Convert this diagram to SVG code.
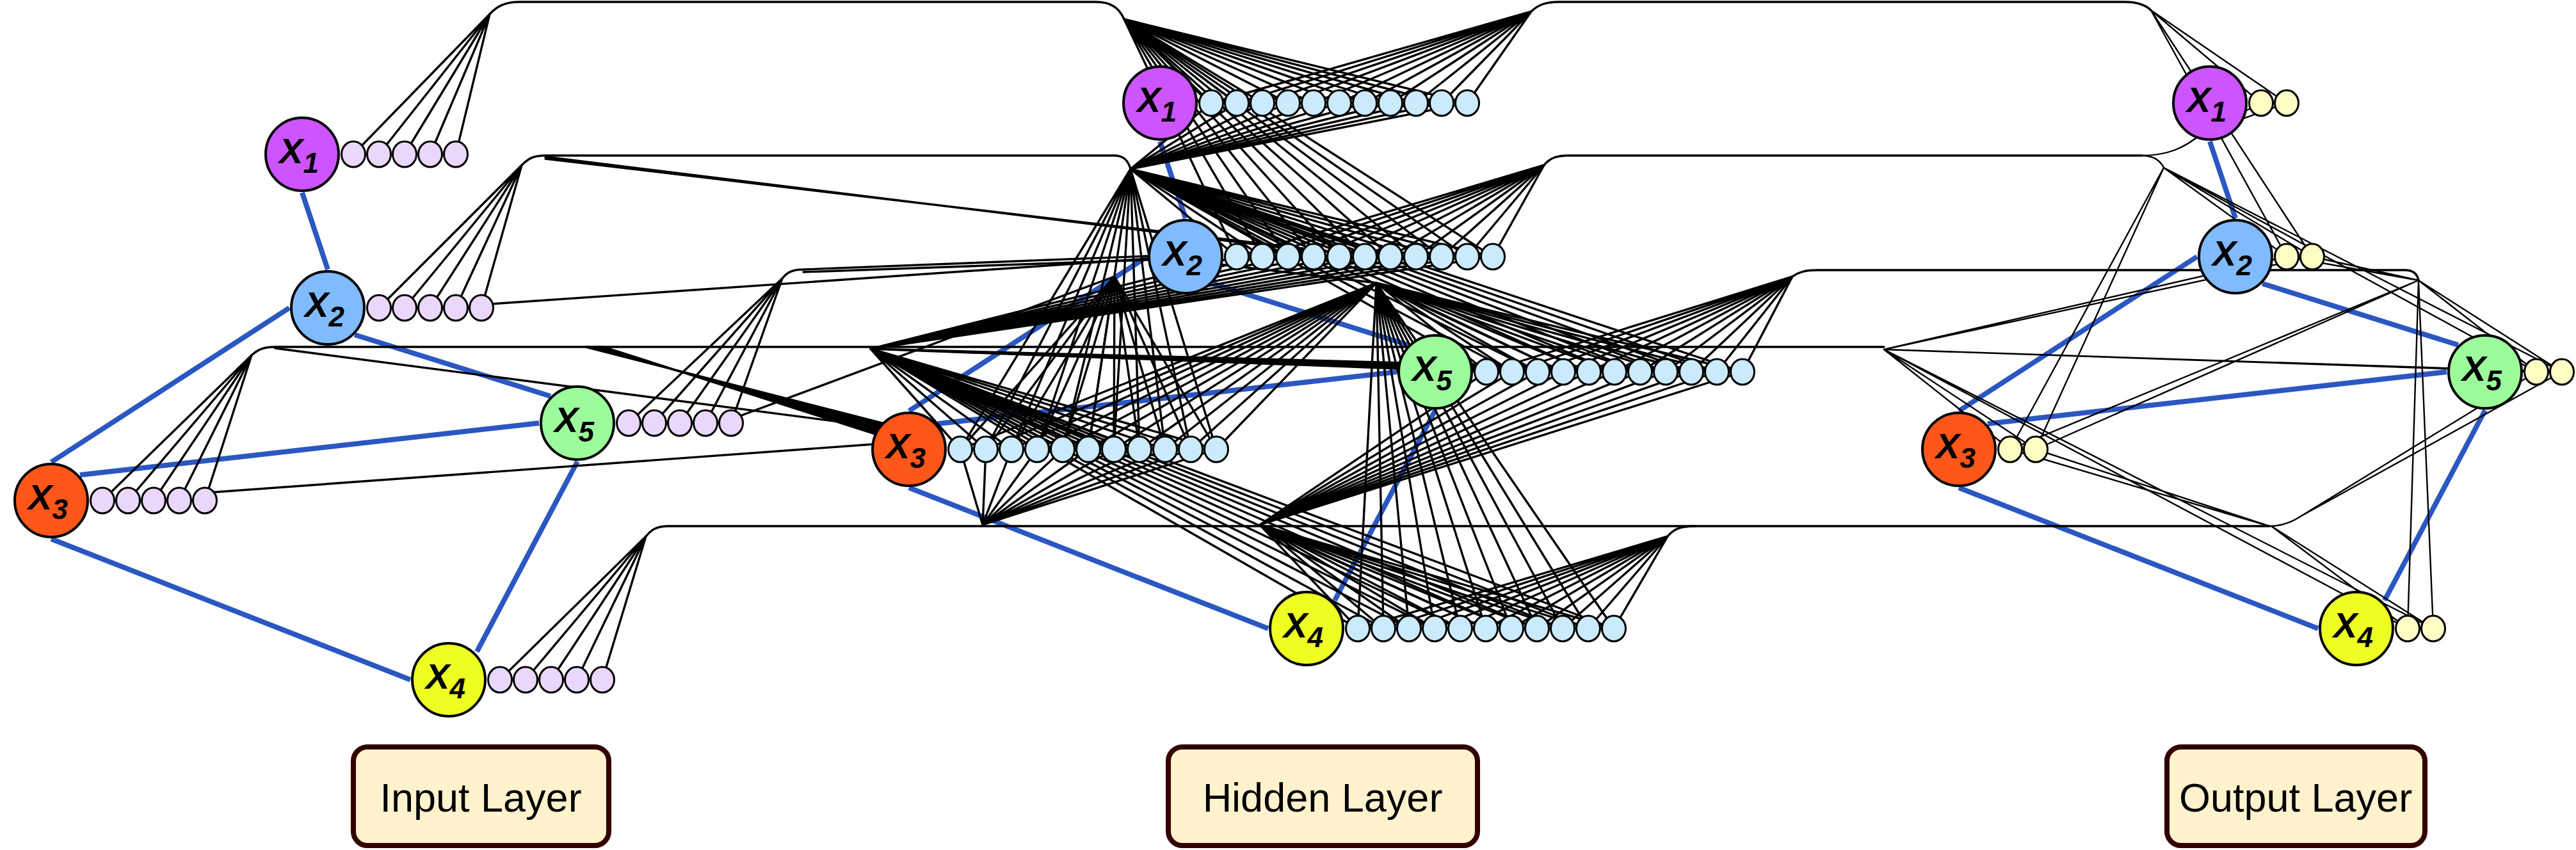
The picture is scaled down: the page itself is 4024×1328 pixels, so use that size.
<svg xmlns="http://www.w3.org/2000/svg" width="4024" height="1328" viewBox="0 0 4024 1328">
<style>
.b{fill:none;stroke:#2b57c2;stroke-width:8}
.k{fill:none;stroke:#000;stroke-width:3.4;stroke-linecap:round}
.o{fill:none;stroke:#000;stroke-width:2.4;stroke-linecap:round}
.n{stroke:#000;stroke-width:4}
.c{stroke:#000;stroke-width:3}
.ci{fill:#ead7fa}.ch{fill:#cbeafb}.co{fill:#fffcc4}
.x1{fill:#cc55ff}.x2{fill:#80bbff}.x3{fill:#ff561a}.x4{fill:#eeff22}.x5{fill:#9cfc9c}
.t{font-family:"Liberation Sans",Arial,sans-serif;font-weight:bold;font-style:italic;font-size:56px;text-anchor:middle;fill:#000}
.s{font-size:44px}
.box{fill:#fff2cc;stroke:#330000;stroke-width:8}
.bl{font-family:"Liberation Sans",Arial,sans-serif;font-size:63px;text-anchor:middle;fill:#000}
</style>
<rect width="4024" height="1328" fill="#fff"/>
<g id="connectors">
<g id="graph-edges">
<path class="b" d="M472 301L512 421M452 481L80 722M554 523L860 619M125 742L842 661M80 842L641 1062M902 721L745 1018"/>
<path class="b" d="M1812 221L1852 341M1792 401L1420 642M1894 443L2200 539M1465 662L2182 581M1420 762L1981 982M2242 641L2085 938"/>
<path class="b" d="M3452 221L3492 341M3432 401L3060 642M3534 443L3840 539M3105 662L3822 581M3060 762L3621 982M3882 641L3725 938"/>
</g>
<g id="input-to-hidden">
<path class="k" d="M552 241L765 22M592 241L765 22M632 241L765 22M672 241L765 22M712 241L765 22"/>
<path class="k" d="M592 481L815 258M632 481L815 258M672 481L815 258M712 481L815 258M752 481L815 258"/>
<path class="k" d="M160 782L393 555M200 782L393 555M240 782L393 555M280 782L393 555M320 782L393 555"/>
<path class="k" d="M781 1062L1009 838M821 1062L1009 838M861 1062L1009 838M901 1062L1009 838M941 1062L1009 838"/>
<path class="k" d="M982 661L1222 435M1022 661L1222 435M1062 661L1222 435M1102 661L1222 435M1142 661L1222 435"/>
<path class="k" d="M765 22C777 9 790 3 812 3H1712C1735 3 1748 12 1756 30"/>
<path class="k" d="M815 258C826 247 834 243 852 243H1740C1755 243 1762 250 1766 264"/>
<path class="k" d="M393 555C403 546 412 542 430 542H2943"/>
<path class="k" d="M1009 838C1017 828 1025 822 1045 822H3545"/>
<path class="k" d="M1222 435C1229 426 1237 421 1255 421L1795 400L2150 442M1255 425L1795 406"/>
<path class="k" d="M915 542L1382 662M919 542L1382 665M923 542L1382 668M927 542L1382 671M931 542L1382 674M935 542L1382 677M939 542L1382 680M943 542L1382 683M430 544L1380 668M320 770L1365 694M852 245L2012 388M852 248L2052 390M752 476L1795 404M1142 655L1741 432"/>
<path class="k" d="M1756 30L1892 161M1756 30L1932 161M1756 30L1972 161M1756 30L2012 161M1756 30L2052 161M1756 30L2092 161M1756 30L2132 161M1756 30L2172 161M1756 30L2212 161M1756 30L2252 161M1756 30L2292 161"/>
<path class="k" d="M1756 30L1932 401M1756 30L1972 401M1756 30L2012 401M1756 30L2052 401M1756 30L2092 401M1756 30L2132 401M1756 30L2172 401M1756 30L2212 401M1756 30L2252 401M1756 30L2292 401M1756 30L2332 401"/>
<path class="k" d="M1766 264L1892 161M1766 264L1932 161M1766 264L1972 161M1766 264L2012 161M1766 264L2052 161M1766 264L2092 161M1766 264L2132 161M1766 264L2172 161M1766 264L2212 161M1766 264L2252 161M1766 264L2292 161"/>
<path class="k" d="M1766 264L1932 401M1766 264L1972 401M1766 264L2012 401M1766 264L2052 401M1766 264L2092 401M1766 264L2132 401M1766 264L2172 401M1766 264L2212 401M1766 264L2252 401M1766 264L2292 401M1766 264L2332 401"/>
<path class="k" d="M1766 264L1500 702M1766 264L1540 702M1766 264L1580 702M1766 264L1620 702M1766 264L1660 702M1766 264L1700 702M1766 264L1740 702M1766 264L1780 702M1766 264L1820 702M1766 264L1860 702M1766 264L1900 702"/>
<path class="k" d="M1766 264L2322 581M1766 264L2362 581M1766 264L2402 581M1766 264L2442 581M1766 264L2482 581M1766 264L2522 581M1766 264L2562 581M1766 264L2602 581M1766 264L2642 581M1766 264L2682 581M1766 264L2722 581"/>
<path class="k" d="M1360 545L1932 401M1360 545L1972 401M1360 545L2012 401M1360 545L2052 401M1360 545L2092 401M1360 545L2132 401M1360 545L2172 401M1360 545L2212 401M1360 545L2252 401M1360 545L2292 401M1360 545L2332 401"/>
<path class="k" d="M1360 545L1500 702M1360 545L1540 702M1360 545L1580 702M1360 545L1620 702M1360 545L1660 702M1360 545L1700 702M1360 545L1740 702M1360 545L1780 702M1360 545L1820 702M1360 545L1860 702M1360 545L1900 702"/>
<path class="k" d="M1360 545L2121 982M1360 545L2161 982M1360 545L2201 982M1360 545L2241 982M1360 545L2281 982M1360 545L2321 982M1360 545L2361 982M1360 545L2401 982M1360 545L2441 982M1360 545L2481 982M1360 545L2521 982"/>
<path class="k" d="M1360 545L2322 581M1360 545L2362 581M1360 545L2402 581M1360 545L2442 581M1360 545L2482 581M1360 545L2522 581M1360 545L2562 581M1360 545L2602 581M1360 545L2642 581M1360 545L2682 581M1360 545L2722 581"/>
<path class="k" d="M2150 442L1500 702M2150 442L1540 702M2150 442L1580 702M2150 442L1620 702M2150 442L1660 702M2150 442L1700 702M2150 442L1740 702M2150 442L1780 702M2150 442L1820 702M2150 442L1860 702M2150 442L1900 702"/>
<path class="k" d="M2150 442L2121 982M2150 442L2161 982M2150 442L2201 982M2150 442L2241 982M2150 442L2281 982M2150 442L2321 982M2150 442L2361 982M2150 442L2401 982M2150 442L2441 982M2150 442L2481 982M2150 442L2521 982"/>
<path class="k" d="M2150 442L2322 581M2150 442L2362 581M2150 442L2402 581M2150 442L2442 581M2150 442L2482 581M2150 442L2522 581M2150 442L2562 581M2150 442L2602 581M2150 442L2642 581M2150 442L2682 581M2150 442L2722 581"/>
<path class="k" d="M1741 432L1500 702M1741 432L1540 702M1741 432L1580 702M1741 432L1620 702M1741 432L1660 702M1741 432L1700 702M1741 432L1740 702M1741 432L1780 702M1741 432L1820 702M1741 432L1860 702M1741 432L1900 702"/>
<path class="k" d="M1535 820L1500 702M1535 820L1540 702M1535 820L1580 702M1535 820L1620 702M1535 820L1660 702M1535 820L1700 702M1535 820L1740 702M1535 820L1780 702M1535 820L1820 702M1535 820L1860 702M1535 820L1900 702"/>
<path class="k" d="M1968 820L2121 982M1968 820L2161 982M1968 820L2201 982M1968 820L2241 982M1968 820L2281 982M1968 820L2321 982M1968 820L2361 982M1968 820L2401 982M1968 820L2441 982M1968 820L2481 982M1968 820L2521 982"/>
<path class="k" d="M1968 820L2322 581M1968 820L2362 581M1968 820L2402 581M1968 820L2442 581M1968 820L2482 581M1968 820L2522 581M1968 820L2562 581M1968 820L2602 581M1968 820L2642 581M1968 820L2682 581M1968 820L2722 581"/>
</g>
<g id="hidden-to-output">
<path class="k" d="M1892 161L2392 18M1932 161L2392 18M1972 161L2392 18M2012 161L2392 18M2052 161L2392 18M2092 161L2392 18M2132 161L2392 18M2172 161L2392 18M2212 161L2392 18M2252 161L2392 18M2292 161L2392 18"/>
<path class="k" d="M1932 401L2412 258M1972 401L2412 258M2012 401L2412 258M2052 401L2412 258M2092 401L2412 258M2132 401L2412 258M2172 401L2412 258M2212 401L2412 258M2252 401L2412 258M2292 401L2412 258M2332 401L2412 258"/>
<path class="k" d="M2322 581L2800 432M2362 581L2800 432M2402 581L2800 432M2442 581L2800 432M2482 581L2800 432M2522 581L2800 432M2562 581L2800 432M2602 581L2800 432M2642 581L2800 432M2682 581L2800 432M2722 581L2800 432"/>
<path class="k" d="M2121 982L2605 838M2161 982L2605 838M2201 982L2605 838M2241 982L2605 838M2281 982L2605 838M2321 982L2605 838M2361 982L2605 838M2401 982L2605 838M2441 982L2605 838M2481 982L2605 838M2521 982L2605 838"/>
<path class="k" d="M2392 18C2402 8 2414 3 2435 3H3319C3340 3 3352 8 3360 16"/>
<path class="k" d="M2412 258C2420 248 2430 243 2450 243H3345"/>
<path class="k" d="M2800 432C2810 425 2820 422 2840 422H3757C3770 422 3776 428 3778 438"/>
<path class="k" d="M2605 838C2614 827 2624 822 2648 822"/>
<path class="o" d="M3360 16L3532 161M3360 16L3572 161M3360 16L3572 401M3360 16L3612 401"/>
<path class="o" d="M3345 243C3385 243 3412 232 3440 208L3532 161M3440 208L3572 161"/>
<path class="o" d="M3345 243C3362 243 3374 250 3380 262M3380 262L3572 401M3380 262L3612 401M3380 262L3140 702M3380 262L3180 702M3380 262L3962 581M3380 262L4002 581"/>
<path class="o" d="M2943 546L3572 401M2943 546L3612 401M2943 546L3140 702M2943 546L3180 702M2943 546L3761 982M2943 546L3801 982M2943 546L3962 581M2943 546L4002 581"/>
<path class="o" d="M3778 438L3572 401M3778 438L3612 401M3778 438L3140 702M3778 438L3180 702M3778 438L3761 982M3778 438L3801 982M3778 438L3962 581M3778 438L4002 581"/>
<path class="o" d="M3545 822C3565 822 3580 816 3595 806L3962 581M3595 806L4002 581M3548 822L3761 982M3548 822L3801 982M3545 822L3140 702M3545 822L3180 702"/>
</g>
</g>
<g id="input-layer">
<g id="in-x1"><g class="c ci"><ellipse cx="552" cy="241" rx="18.5" ry="20"/><ellipse cx="592" cy="241" rx="18.5" ry="20"/><ellipse cx="632" cy="241" rx="18.5" ry="20"/><ellipse cx="672" cy="241" rx="18.5" ry="20"/><ellipse cx="712" cy="241" rx="18.5" ry="20"/></g><circle class="n x1" cx="472" cy="241" r="57"/><text class="t" x="467" y="255">X<tspan class="s" dy="15">1</tspan></text></g>
<g id="in-x2"><g class="c ci"><ellipse cx="592" cy="481" rx="18.5" ry="20"/><ellipse cx="632" cy="481" rx="18.5" ry="20"/><ellipse cx="672" cy="481" rx="18.5" ry="20"/><ellipse cx="712" cy="481" rx="18.5" ry="20"/><ellipse cx="752" cy="481" rx="18.5" ry="20"/></g><circle class="n x2" cx="512" cy="481" r="57"/><text class="t" x="507" y="495">X<tspan class="s" dy="15">2</tspan></text></g>
<g id="in-x3"><g class="c ci"><ellipse cx="160" cy="782" rx="18.5" ry="20"/><ellipse cx="200" cy="782" rx="18.5" ry="20"/><ellipse cx="240" cy="782" rx="18.5" ry="20"/><ellipse cx="280" cy="782" rx="18.5" ry="20"/><ellipse cx="320" cy="782" rx="18.5" ry="20"/></g><circle class="n x3" cx="80" cy="782" r="57"/><text class="t" x="75" y="796">X<tspan class="s" dy="15">3</tspan></text></g>
<g id="in-x4"><g class="c ci"><ellipse cx="781" cy="1062" rx="18.5" ry="20"/><ellipse cx="821" cy="1062" rx="18.5" ry="20"/><ellipse cx="861" cy="1062" rx="18.5" ry="20"/><ellipse cx="901" cy="1062" rx="18.5" ry="20"/><ellipse cx="941" cy="1062" rx="18.5" ry="20"/></g><circle class="n x4" cx="701" cy="1062" r="57"/><text class="t" x="696" y="1076">X<tspan class="s" dy="15">4</tspan></text></g>
<g id="in-x5"><g class="c ci"><ellipse cx="982" cy="661" rx="18.5" ry="20"/><ellipse cx="1022" cy="661" rx="18.5" ry="20"/><ellipse cx="1062" cy="661" rx="18.5" ry="20"/><ellipse cx="1102" cy="661" rx="18.5" ry="20"/><ellipse cx="1142" cy="661" rx="18.5" ry="20"/></g><circle class="n x5" cx="902" cy="661" r="57"/><text class="t" x="897" y="675">X<tspan class="s" dy="15">5</tspan></text></g>
</g>
<g id="hidden-layer">
<g id="hid-x1"><g class="c ch"><ellipse cx="1892" cy="161" rx="18.5" ry="20"/><ellipse cx="1932" cy="161" rx="18.5" ry="20"/><ellipse cx="1972" cy="161" rx="18.5" ry="20"/><ellipse cx="2012" cy="161" rx="18.5" ry="20"/><ellipse cx="2052" cy="161" rx="18.5" ry="20"/><ellipse cx="2092" cy="161" rx="18.5" ry="20"/><ellipse cx="2132" cy="161" rx="18.5" ry="20"/><ellipse cx="2172" cy="161" rx="18.5" ry="20"/><ellipse cx="2212" cy="161" rx="18.5" ry="20"/><ellipse cx="2252" cy="161" rx="18.5" ry="20"/><ellipse cx="2292" cy="161" rx="18.5" ry="20"/></g><circle class="n x1" cx="1812" cy="161" r="57"/><text class="t" x="1807" y="175">X<tspan class="s" dy="15">1</tspan></text></g>
<g id="hid-x2"><g class="c ch"><ellipse cx="1932" cy="401" rx="18.5" ry="20"/><ellipse cx="1972" cy="401" rx="18.5" ry="20"/><ellipse cx="2012" cy="401" rx="18.5" ry="20"/><ellipse cx="2052" cy="401" rx="18.5" ry="20"/><ellipse cx="2092" cy="401" rx="18.5" ry="20"/><ellipse cx="2132" cy="401" rx="18.5" ry="20"/><ellipse cx="2172" cy="401" rx="18.5" ry="20"/><ellipse cx="2212" cy="401" rx="18.5" ry="20"/><ellipse cx="2252" cy="401" rx="18.5" ry="20"/><ellipse cx="2292" cy="401" rx="18.5" ry="20"/><ellipse cx="2332" cy="401" rx="18.5" ry="20"/></g><circle class="n x2" cx="1852" cy="401" r="57"/><text class="t" x="1847" y="415">X<tspan class="s" dy="15">2</tspan></text></g>
<g id="hid-x3"><g class="c ch"><ellipse cx="1500" cy="702" rx="18.5" ry="20"/><ellipse cx="1540" cy="702" rx="18.5" ry="20"/><ellipse cx="1580" cy="702" rx="18.5" ry="20"/><ellipse cx="1620" cy="702" rx="18.5" ry="20"/><ellipse cx="1660" cy="702" rx="18.5" ry="20"/><ellipse cx="1700" cy="702" rx="18.5" ry="20"/><ellipse cx="1740" cy="702" rx="18.5" ry="20"/><ellipse cx="1780" cy="702" rx="18.5" ry="20"/><ellipse cx="1820" cy="702" rx="18.5" ry="20"/><ellipse cx="1860" cy="702" rx="18.5" ry="20"/><ellipse cx="1900" cy="702" rx="18.5" ry="20"/></g><circle class="n x3" cx="1420" cy="702" r="57"/><text class="t" x="1415" y="716">X<tspan class="s" dy="15">3</tspan></text></g>
<g id="hid-x4"><g class="c ch"><ellipse cx="2121" cy="982" rx="18.5" ry="20"/><ellipse cx="2161" cy="982" rx="18.5" ry="20"/><ellipse cx="2201" cy="982" rx="18.5" ry="20"/><ellipse cx="2241" cy="982" rx="18.5" ry="20"/><ellipse cx="2281" cy="982" rx="18.5" ry="20"/><ellipse cx="2321" cy="982" rx="18.5" ry="20"/><ellipse cx="2361" cy="982" rx="18.5" ry="20"/><ellipse cx="2401" cy="982" rx="18.5" ry="20"/><ellipse cx="2441" cy="982" rx="18.5" ry="20"/><ellipse cx="2481" cy="982" rx="18.5" ry="20"/><ellipse cx="2521" cy="982" rx="18.5" ry="20"/></g><circle class="n x4" cx="2041" cy="982" r="57"/><text class="t" x="2036" y="996">X<tspan class="s" dy="15">4</tspan></text></g>
<g id="hid-x5"><g class="c ch"><ellipse cx="2322" cy="581" rx="18.5" ry="20"/><ellipse cx="2362" cy="581" rx="18.5" ry="20"/><ellipse cx="2402" cy="581" rx="18.5" ry="20"/><ellipse cx="2442" cy="581" rx="18.5" ry="20"/><ellipse cx="2482" cy="581" rx="18.5" ry="20"/><ellipse cx="2522" cy="581" rx="18.5" ry="20"/><ellipse cx="2562" cy="581" rx="18.5" ry="20"/><ellipse cx="2602" cy="581" rx="18.5" ry="20"/><ellipse cx="2642" cy="581" rx="18.5" ry="20"/><ellipse cx="2682" cy="581" rx="18.5" ry="20"/><ellipse cx="2722" cy="581" rx="18.5" ry="20"/></g><circle class="n x5" cx="2242" cy="581" r="57"/><text class="t" x="2237" y="595">X<tspan class="s" dy="15">5</tspan></text></g>
</g>
<g id="output-layer">
<g id="out-x1"><g class="c co"><ellipse cx="3532" cy="161" rx="18.5" ry="20"/><ellipse cx="3572" cy="161" rx="18.5" ry="20"/></g><circle class="n x1" cx="3452" cy="161" r="57"/><text class="t" x="3447" y="175">X<tspan class="s" dy="15">1</tspan></text></g>
<g id="out-x2"><g class="c co"><ellipse cx="3572" cy="401" rx="18.5" ry="20"/><ellipse cx="3612" cy="401" rx="18.5" ry="20"/></g><circle class="n x2" cx="3492" cy="401" r="57"/><text class="t" x="3487" y="415">X<tspan class="s" dy="15">2</tspan></text></g>
<g id="out-x3"><g class="c co"><ellipse cx="3140" cy="702" rx="18.5" ry="20"/><ellipse cx="3180" cy="702" rx="18.5" ry="20"/></g><circle class="n x3" cx="3060" cy="702" r="57"/><text class="t" x="3055" y="716">X<tspan class="s" dy="15">3</tspan></text></g>
<g id="out-x4"><g class="c co"><ellipse cx="3761" cy="982" rx="18.5" ry="20"/><ellipse cx="3801" cy="982" rx="18.5" ry="20"/></g><circle class="n x4" cx="3681" cy="982" r="57"/><text class="t" x="3676" y="996">X<tspan class="s" dy="15">4</tspan></text></g>
<g id="out-x5"><g class="c co"><ellipse cx="3962" cy="581" rx="18.5" ry="20"/><ellipse cx="4002" cy="581" rx="18.5" ry="20"/></g><circle class="n x5" cx="3882" cy="581" r="57"/><text class="t" x="3877" y="595">X<tspan class="s" dy="15">5</tspan></text></g>
</g>
<g id="label-input"><rect class="box" x="552" y="1167" width="399" height="154" rx="22"/><text class="bl" x="751" y="1268">Input Layer</text></g>
<g id="label-hidden"><rect class="box" x="1825" y="1167" width="483" height="154" rx="22"/><text class="bl" x="2066" y="1268">Hidden Layer</text></g>
<g id="label-output"><rect class="box" x="3385" y="1167" width="403" height="154" rx="22"/><text class="bl" x="3586" y="1268">Output Layer</text></g>
</svg>
